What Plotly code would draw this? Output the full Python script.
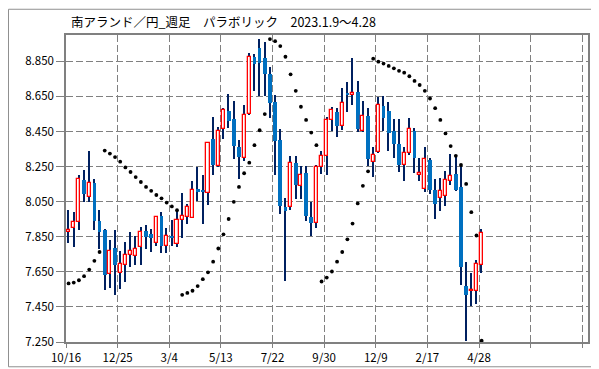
import plotly.graph_objects as go

# weekly ZAR/JPY candles (index = week number on the axis)
opens = [7.875, 7.902, 7.935, 8.174, 8.079, 8.156, 7.942, 7.890, 7.636, 7.787,
         7.643, 7.687, 7.746, 7.743, 7.791, 7.885, 7.863, 7.812, 7.968, 7.796,
         7.855, 7.807, 7.946, 7.962, 7.958, 8.121, 8.119, 8.101, 8.407, 8.256,
         8.462, 8.568, 8.522, 8.364, 8.300, 8.549, 8.872, 8.928, 8.867, 8.780,
         8.617, 8.400, 8.019, 8.018, 8.272, 8.140, 8.213, 7.962, 7.931, 8.245,
         8.313, 8.516, 8.562, 8.481, 8.667, 8.658, 8.673, 8.455, 8.540, 8.278,
         8.333, 8.595, 8.568, 8.451, 8.379, 8.259, 8.328, 8.455, 8.201, 8.121,
         8.285, 8.115, 8.073, 8.084, 8.167, 8.208, 8.134, 7.571, 7.539, 7.539,
         7.691]
highs = [8.000, 7.990, 8.200, 8.230, 8.340, 8.180, 8.000, 7.894, 7.830, 7.890,
         7.770, 7.820, 7.875, 7.853, 7.905, 7.916, 7.897, 7.970, 7.990, 7.900,
         7.946, 7.998, 8.100, 8.035, 8.170, 8.245, 8.200, 8.389, 8.530, 8.473,
         8.586, 8.666, 8.623, 8.400, 8.600, 8.896, 8.890, 8.977, 8.960, 8.817,
         8.660, 8.466, 8.070, 8.313, 8.313, 8.254, 8.254, 8.050, 8.257, 8.336,
         8.530, 8.590, 8.586, 8.700, 8.730, 8.867, 8.738, 8.623, 8.586, 8.364,
         8.647, 8.650, 8.620, 8.520, 8.520, 8.360, 8.525, 8.470, 8.300, 8.360,
         8.300, 8.180, 8.184, 8.226, 8.324, 8.318, 8.267, 7.706, 7.641, 7.715,
         7.897]
lows = [7.815, 7.790, 7.890, 8.050, 8.047, 7.888, 7.780, 7.547, 7.560, 7.517,
        7.550, 7.590, 7.680, 7.690, 7.687, 7.780, 7.765, 7.800, 7.755, 7.757,
        7.797, 7.794, 7.845, 7.920, 7.955, 8.054, 7.921, 8.032, 8.204, 8.250,
        8.410, 8.470, 8.296, 8.180, 8.280, 8.545, 8.680, 8.651, 8.650, 8.525,
        8.204, 7.980, 7.595, 8.005, 8.066, 8.066, 7.940, 7.852, 7.900, 8.210,
        8.200, 8.450, 8.420, 8.460, 8.560, 8.600, 8.445, 8.447, 8.254, 8.193,
        8.330, 8.451, 8.336, 8.300, 8.220, 8.167, 8.318, 8.212, 8.167, 8.103,
        8.093, 7.950, 7.996, 8.023, 8.143, 8.110, 7.577, 7.257, 7.456, 7.466,
        7.641]
closes = [7.890, 7.935, 8.178, 8.093, 8.156, 7.938, 7.879, 7.632, 7.769, 7.691,
          7.694, 7.746, 7.769, 7.780, 7.875, 7.846, 7.844, 7.963, 7.796, 7.857,
          7.844, 7.946, 7.968, 8.019, 8.119, 8.110, 8.104, 8.383, 8.259, 8.455,
          8.571, 8.512, 8.370, 8.303, 8.544, 8.876, 8.835, 8.841, 8.780, 8.614,
          8.398, 8.027, 7.999, 8.272, 8.143, 8.202, 7.971, 7.931, 8.245, 8.313,
          8.516, 8.571, 8.481, 8.610, 8.658, 8.667, 8.466, 8.536, 8.291, 8.318,
          8.599, 8.525, 8.444, 8.381, 8.259, 8.328, 8.466, 8.300, 8.212, 8.295,
          8.115, 8.036, 8.108, 8.174, 8.195, 8.115, 7.676, 7.516, 7.547, 7.696,
          7.872]
# parabolic SAR
sar = [7.584, 7.589, 7.602, 7.625, 7.663, 7.713, 7.763, 8.341, 8.324, 8.304,
       8.278, 8.245, 8.219, 8.190, 8.162, 8.134, 8.112, 8.088, 8.069, 8.045,
       8.023, 8.001, 7.519, 7.530, 7.542, 7.569, 7.608, 7.647, 7.708, 7.783,
       7.864, 7.951, 8.049, 8.134, 8.212, 8.272, 8.372, 8.457, 8.549, 8.977,
       8.965, 8.937, 8.876, 8.776, 8.682, 8.591, 8.516, 8.444, 8.372, 7.595,
       7.617, 7.652, 7.708, 7.763, 7.835, 7.925, 8.040, 8.140, 8.223, 8.865,
       8.848, 8.837, 8.824, 8.810, 8.796, 8.785, 8.765, 8.738, 8.715, 8.682,
       8.638, 8.583, 8.516, 8.439, 8.367, 8.311, 8.259, 8.151, 7.990, 7.857,
       7.257]
tick_labels = ["10/16", "12/25", "3/4", "5/13", "7/22", "9/30", "12/9", "2/17", "4/28", "", ""]
y_ticks = [7.25, 7.45, 7.65, 7.85, 8.05, 8.25, 8.45, 8.65, 8.85]

weeks = list(range(len(opens)))

up_x, up_base, up_h = [], [], []
dn_x, dn_base, dn_h = [], [], []
for i, o, c in zip(weeks, opens, closes):
    if c >= o:
        up_x.append(i); up_base.append(o); up_h.append(max(c - o, 0.004))
    else:
        dn_x.append(i); dn_base.append(c); dn_h.append(max(o - c, 0.004))

fig = go.Figure()
# wicks (drawn first so bodies cover them)
fig.add_trace(go.Bar(x=weeks, y=[h - l for h, l in zip(highs, lows)], base=lows,
                     width=0.28, marker=dict(color="#002060", line=dict(width=0)),
                     hoverinfo="skip", showlegend=False))
fig.add_trace(go.Bar(x=dn_x, y=dn_h, base=dn_base, width=0.72,
                     marker=dict(color="#0070C0", line=dict(width=0)),
                     showlegend=False))
fig.add_trace(go.Bar(x=up_x, y=up_h, base=up_base, width=0.6,
                     marker=dict(color="#FFFFFF", line=dict(color="#FF0000", width=1.3)),
                     showlegend=False))
fig.add_trace(go.Scatter(x=weeks, y=sar, mode="markers",
                         marker=dict(color="#000000", size=3.8, symbol="circle"),
                         showlegend=False))

grid = "#808080"
fig.update_layout(
    width=599, height=369,
    margin=dict(l=58, r=19, t=27, b=26),
    paper_bgcolor="white", plot_bgcolor="white",
    barmode="overlay", bargap=0,
    font=dict(family="Noto Sans CJK JP, Noto Sans, sans-serif", size=11, color="#000000"),
    title=dict(text="南アランド／円_週足　パラボリック　2023.1.9～4.28",
               x=63 / 599, xanchor="left", xref="container",
               y=1 - 15 / 369, yanchor="middle", yref="container",
               font=dict(size=12.5, color="#000000")),
    xaxis=dict(range=[-0.5, 100.6], tickmode="array",
               tickvals=[-0.5 + 10 * k for k in range(len(tick_labels))],
               ticktext=tick_labels,
               showgrid=True, gridcolor=grid, gridwidth=1, griddash="7px,3px",
               ticks="outside", ticklen=4, tickcolor=grid,
               showline=True, linecolor=grid, linewidth=1.5, mirror=True,
               zeroline=False, tickfont=dict(size=11.5)),
    yaxis=dict(range=[7.25, 9.0], tickmode="array", tickvals=y_ticks,
               tickformat=".3f",
               showgrid=True, gridcolor=grid, gridwidth=1, griddash="7px,3px",
               ticks="outside", ticklen=8, tickcolor=grid,
               showline=True, linecolor=grid, linewidth=1.5, mirror=True,
               zeroline=False, tickfont=dict(size=11.5)),
    shapes=[dict(type="rect", xref="paper", yref="paper",
                 x0=-57.5 / 522, x1=540.5 / 522, y0=-25.5 / 316, y1=342.5 / 316,
                 line=dict(color="#909090", width=1), fillcolor="rgba(0,0,0,0)",
                 layer="above")],
)

fig.write_html("out.html")
